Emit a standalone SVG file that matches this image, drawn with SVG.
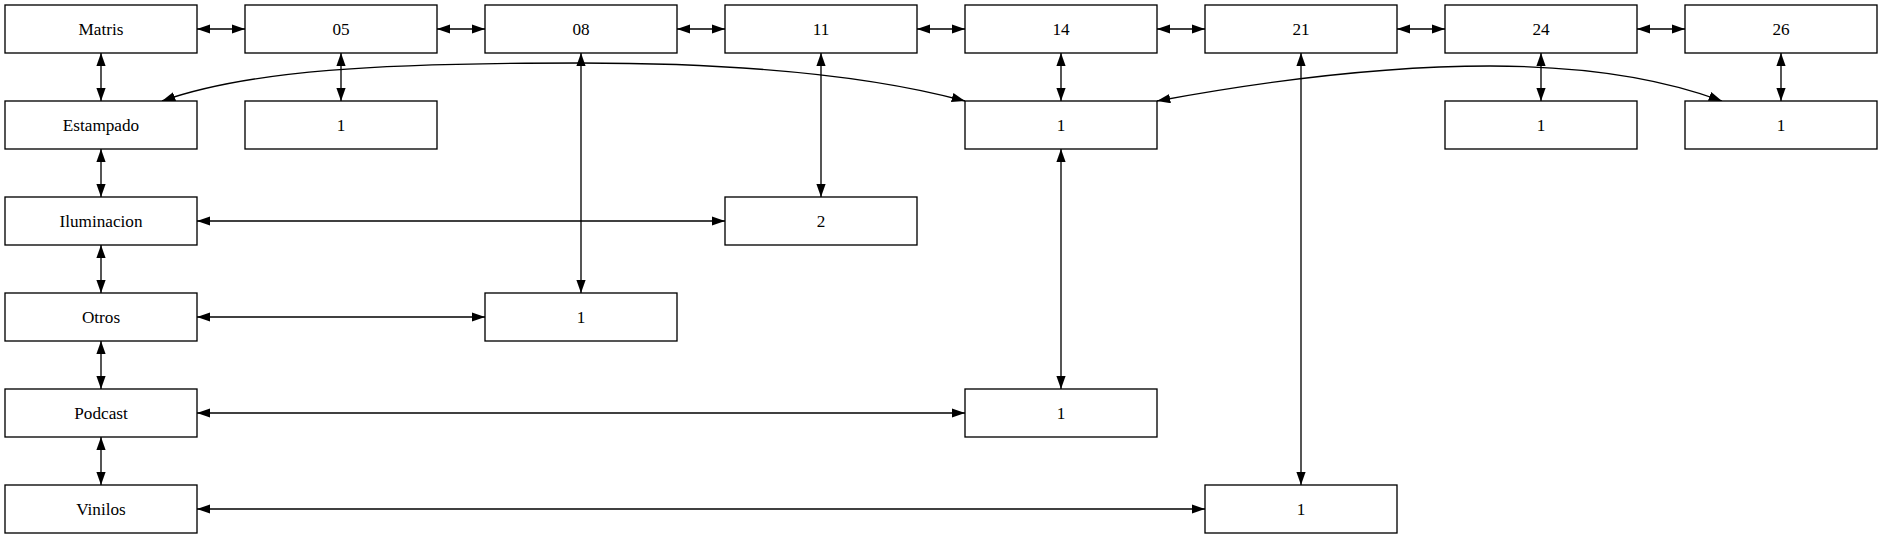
<svg xmlns="http://www.w3.org/2000/svg" width="1883" height="539" viewBox="0 0 1883 539">
<style>
.n rect{fill:#fff;stroke:#000;stroke-width:1.33}
.n text{font-family:"Liberation Serif","Times New Roman",serif;font-size:17.2px;text-anchor:middle;fill:#000}
.e path{fill:none;stroke:#000;stroke-width:1.33;marker-start:url(#a);marker-end:url(#a)}
</style>
<defs>
<marker id="a" viewBox="0 0 13.3 9.4" refX="13.3" refY="4.7" markerWidth="13.3" markerHeight="9.4" markerUnits="userSpaceOnUse" orient="auto-start-reverse">
<path d="M0,0 L13.3,4.7 L0,9.4 z" fill="#000"/>
</marker>
</defs>
<rect width="1883" height="539" fill="#fff"/>
<g class="e" id="edges">
<path d="M197,29 H245"/>
<path d="M437,29 H485"/>
<path d="M677,29 H725"/>
<path d="M917,29 H965"/>
<path d="M1157,29 H1205"/>
<path d="M1397,29 H1445"/>
<path d="M1637,29 H1685"/>
<path d="M101,53 V101"/>
<path d="M101,149 V197"/>
<path d="M101,245 V293"/>
<path d="M101,341 V389"/>
<path d="M101,437 V485"/>
<path d="M341,53 V101"/>
<path d="M581,53 V293"/>
<path d="M821,53 V197"/>
<path d="M1061,53 V101"/>
<path d="M1061,149 V389"/>
<path d="M1301,53 V485"/>
<path d="M1541,53 V101"/>
<path d="M1781,53 V101"/>
<path d="M197,221 H725"/>
<path d="M197,317 H485"/>
<path d="M197,413 H965"/>
<path d="M197,509 H1205"/>
<path d="M162,101 C250,70 380,63 580,63 C760,63 880,78 965,101"/>
<path d="M1157,101 C1260,82 1380,66 1490,66 C1580,66 1660,78 1722,101"/>
</g>
<g class="n" id="n_matris"><rect x="5" y="5" width="192" height="48"/><text x="101" y="35">Matris</text></g>
<g class="n" id="n_05"><rect x="245" y="5" width="192" height="48"/><text x="341" y="35">05</text></g>
<g class="n" id="n_08"><rect x="485" y="5" width="192" height="48"/><text x="581" y="35">08</text></g>
<g class="n" id="n_11"><rect x="725" y="5" width="192" height="48"/><text x="821" y="35">11</text></g>
<g class="n" id="n_14"><rect x="965" y="5" width="192" height="48"/><text x="1061" y="35">14</text></g>
<g class="n" id="n_21"><rect x="1205" y="5" width="192" height="48"/><text x="1301" y="35">21</text></g>
<g class="n" id="n_24"><rect x="1445" y="5" width="192" height="48"/><text x="1541" y="35">24</text></g>
<g class="n" id="n_26"><rect x="1685" y="5" width="192" height="48"/><text x="1781" y="35">26</text></g>
<g class="n" id="n_estampado"><rect x="5" y="101" width="192" height="48"/><text x="101" y="131">Estampado</text></g>
<g class="n" id="n_05_1"><rect x="245" y="101" width="192" height="48"/><text x="341" y="131">1</text></g>
<g class="n" id="n_14_1"><rect x="965" y="101" width="192" height="48"/><text x="1061" y="131">1</text></g>
<g class="n" id="n_24_1"><rect x="1445" y="101" width="192" height="48"/><text x="1541" y="131">1</text></g>
<g class="n" id="n_26_1"><rect x="1685" y="101" width="192" height="48"/><text x="1781" y="131">1</text></g>
<g class="n" id="n_iluminacion"><rect x="5" y="197" width="192" height="48"/><text x="101" y="227">Iluminacion</text></g>
<g class="n" id="n_11_2"><rect x="725" y="197" width="192" height="48"/><text x="821" y="227">2</text></g>
<g class="n" id="n_otros"><rect x="5" y="293" width="192" height="48"/><text x="101" y="323">Otros</text></g>
<g class="n" id="n_08_1"><rect x="485" y="293" width="192" height="48"/><text x="581" y="323">1</text></g>
<g class="n" id="n_podcast"><rect x="5" y="389" width="192" height="48"/><text x="101" y="419">Podcast</text></g>
<g class="n" id="n_14_1b"><rect x="965" y="389" width="192" height="48"/><text x="1061" y="419">1</text></g>
<g class="n" id="n_vinilos"><rect x="5" y="485" width="192" height="48"/><text x="101" y="515">Vinilos</text></g>
<g class="n" id="n_21_1"><rect x="1205" y="485" width="192" height="48"/><text x="1301" y="515">1</text></g>
</svg>
